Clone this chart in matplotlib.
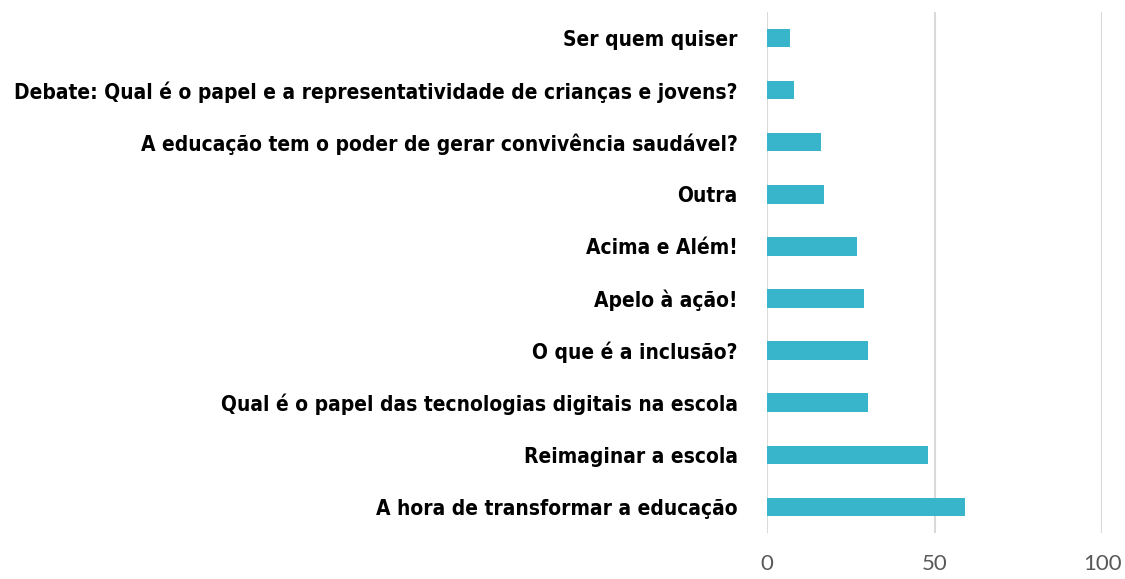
import matplotlib
matplotlib.use("Agg")
import matplotlib.pyplot as plt
import numpy as np

# categories listed bottom to top
temas = [
    "A hora de transformar a educação",
    "Reimaginar a escola",
    "Qual é o papel das tecnologias digitais na escola",
    "O que é a inclusão?",
    "Apelo à ação!",
    "Acima e Além!",
    "Outra",
    "A educação tem o poder de gerar convivência saudável?",
    "Debate: Qual é o papel e a representatividade de crianças e jovens?",
    "Ser quem quiser",
]
votos = [59, 48, 30, 30, 29, 27, 17, 16, 8, 7]
xticks = [0, 50, 100]

fig = plt.figure(figsize=(11.25, 5.79), dpi=100)
ax = fig.add_axes([0.6818, 0.0795, 0.2978, 0.8998])

y = np.arange(len(temas))
ax.barh(y, votos, height=0.355, color="#38b4cb", zorder=3)

ax.set_xlim(0, 100)
ax.set_ylim(-0.5, len(temas) - 0.5)
ax.set_xticks(xticks)
ax.set_yticks(y)
ax.set_yticklabels(temas, family=["DejaVu Sans"], fontstretch="condensed",
                   fontweight="bold", fontsize=15, color="black")
for lbl in ax.get_xticklabels():
    lbl.set_family(["Lato", "DejaVu Sans"])
ax.tick_params(axis="x", length=0, labelsize=16, labelcolor="#595959", pad=15)
ax.tick_params(axis="y", length=0, pad=21)

ax.grid(axis="x", color="#d9d9d9", linewidth=1.5, zorder=0)
for s in ax.spines.values():
    s.set_visible(False)

fig.savefig("out.png", dpi=100)
